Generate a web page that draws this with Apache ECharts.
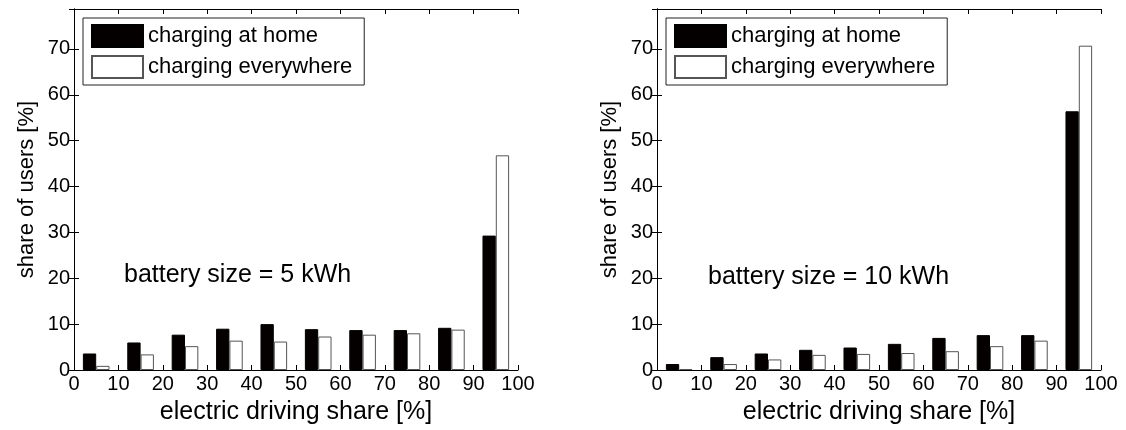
<!DOCTYPE html>
<html>
<head>
<meta charset="utf-8">
<script src="https://cdn.jsdelivr.net/npm/echarts@6/dist/echarts.min.js"></script>
<style>
html, body { margin: 0; padding: 0; background: #fff; }
#chart { width: 1126px; height: 430px; }
</style>
</head>
<body>
<div id="chart"></div>
<script>
// histogram bins of electric driving share (centres at 5, 15, ... 95)
var bins = ['0-10', '10-20', '20-30', '30-40', '40-50', '50-60', '60-70', '70-80', '80-90', '90-100'];
// battery size = 5 kWh
var home5 = [3.6, 6.0, 7.7, 9.0, 10.0, 8.9, 8.7, 8.7, 9.2, 29.3];
var every5 = [0.9, 3.4, 5.2, 6.4, 6.2, 7.3, 7.7, 8.0, 8.8, 46.8];
// battery size = 10 kWh
var home10 = [1.3, 2.8, 3.6, 4.4, 4.9, 5.7, 7.0, 7.6, 7.6, 56.4];
var every10 = [0.2, 1.3, 2.3, 3.3, 3.5, 3.7, 4.1, 5.2, 6.4, 70.7];
var names = ['charging at home', 'charging everywhere'];
var panelText = ['battery size = 5 kWh', 'battery size = 10 kWh'];

var font = "'Liberation Sans', Arial, sans-serif";
var lineStyle = { color: '#000', width: 1 };
var grids = [
  { left: 74, top: 9, width: 444, height: 361 },
  { left: 657, top: 9, width: 444, height: 361 }
];

var xAxes = [], yAxes = [], series = [], legends = [];
[[home5, every5], [home10, every10]].forEach(function (d, p) {
  // hidden category axis that places the bars in the bins
  xAxes.push({
    type: 'category', gridIndex: p, data: bins, show: false, boundaryGap: true
  });
  // visible value axes (box with inner ticks)
  xAxes.push({
    type: 'value', gridIndex: p, position: 'bottom', min: 0, max: 100, interval: 10,
    name: 'electric driving share [%]', nameLocation: 'middle', nameGap: 30,
    nameTextStyle: { fontSize: 25, color: '#000', fontFamily: font },
    axisLine: { show: true, lineStyle: lineStyle },
    axisTick: { show: true, inside: true, length: 5, lineStyle: lineStyle },
    axisLabel: { fontSize: 20, color: '#000', fontFamily: font, margin: 4 },
    splitLine: { show: false }
  });
  xAxes.push({
    type: 'value', gridIndex: p, position: 'top', min: 0, max: 100, interval: 10,
    axisLine: { show: true, lineStyle: lineStyle },
    axisTick: { show: true, inside: true, length: 5, lineStyle: lineStyle },
    axisLabel: { show: false },
    splitLine: { show: false }
  });
  yAxes.push({
    type: 'value', gridIndex: p, position: 'left', min: 0, max: 78.7, interval: 10,
    name: 'share of users [%]', nameLocation: 'middle', nameGap: 36,
    nameTextStyle: { fontSize: 22, color: '#000', fontFamily: font },
    axisLine: { show: true, lineStyle: lineStyle },
    axisTick: { show: true, inside: true, length: 5, lineStyle: lineStyle },
    axisLabel: { fontSize: 20, color: '#000', fontFamily: font, margin: 4, showMaxLabel: false },
    splitLine: { show: false }
  });
  yAxes.push({
    type: 'value', gridIndex: p, position: 'right', min: 0, max: 78.7, interval: 10,
    axisLine: { show: true, lineStyle: lineStyle },
    axisTick: { show: true, inside: true, length: 5, lineStyle: lineStyle },
    axisLabel: { show: false },
    splitLine: { show: false }
  });
  series.push({
    name: names[0], type: 'bar', xAxisIndex: p * 3, yAxisIndex: p * 2,
    data: d[0], barWidth: '30%', barGap: '0%',
    itemStyle: { color: '#050000', borderColor: '#000', borderWidth: 1 }
  });
  series.push({
    name: names[1], type: 'bar', xAxisIndex: p * 3, yAxisIndex: p * 2,
    data: d[1], barWidth: '30%', barGap: '0%',
    itemStyle: { color: '#fff', borderColor: '#555', borderWidth: 1 }
  });
  legends.push({
    data: names, orient: 'vertical', icon: 'rect',
    left: p === 0 ? 83 : 666, top: 18,
    itemWidth: 51, itemHeight: 22, itemGap: 7,
    padding: [6, 12, 6, 8],
    borderColor: '#222', borderWidth: 1, backgroundColor: '#fff',
    textStyle: { fontSize: 22, color: '#000', fontFamily: font }
  });
});

var chart = echarts.init(document.getElementById('chart'));
chart.setOption({
  backgroundColor: '#fff',
  animation: false,
  grid: grids,
  xAxis: xAxes,
  yAxis: yAxes,
  legend: legends,
  series: series,
  graphic: [
    { type: 'text', left: 124, top: 263, style: { text: panelText[0], fontSize: 25, fill: '#000', fontFamily: font } },
    { type: 'text', left: 708, top: 265, style: { text: panelText[1], fontSize: 25, fill: '#000', fontFamily: font } }
  ]
});
</script>
</body>
</html>
